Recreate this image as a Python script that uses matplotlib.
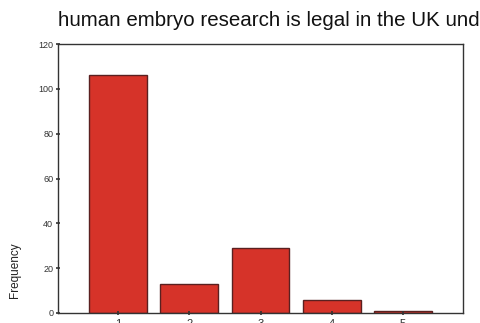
import matplotlib
matplotlib.use("Agg")
import matplotlib.pyplot as plt

plt.rcParams["font.family"] = ["Liberation Sans", "DejaVu Sans"]

categories = [1, 2, 3, 4, 5]
tick_labels = ["1", "2", "3", "4", "5"]
frequency = [106, 13, 29, 6, 1]
yticks = [0, 20, 40, 60, 80, 100, 120]

W, H = 480, 323
fig = plt.figure(figsize=(W / 100, H / 100), dpi=100)
ax = fig.add_axes([58 / W, 1 - 313 / H, (463 - 58) / W, (313 - 44) / H])

ax.bar(categories, frequency, width=0.81, color="#d63329",
       edgecolor="#5a2020", linewidth=1.0)
ax.set_xlim(0.16, 5.84)
ax.set_ylim(0, 120)
ax.set_yticks(yticks)
ax.set_yticklabels([str(v) for v in yticks], fontsize=6.5, color="#333333")
ax.set_xticks(categories)
ax.set_xticklabels(tick_labels, fontsize=8, color="#333333")
ax.tick_params(axis="both", direction="inout", length=3, width=1.2, colors="#333333", pad=2)
ax.tick_params(axis="x", pad=3)
for s in ax.spines.values():
    s.set_color("#333333")
    s.set_linewidth(1.0)

fig.text(58 / W, 1 - 26 / H, "human embryo research is legal in the UK under certain conditions",
         fontsize=14.8, color="#111111", ha="left", va="baseline")
fig.text(15 / W, 1 - 270 / H, "Frequency", rotation=90, fontsize=8.5,
         color="#222222", ha="center", va="center")

fig.savefig("out.png", dpi=100)
